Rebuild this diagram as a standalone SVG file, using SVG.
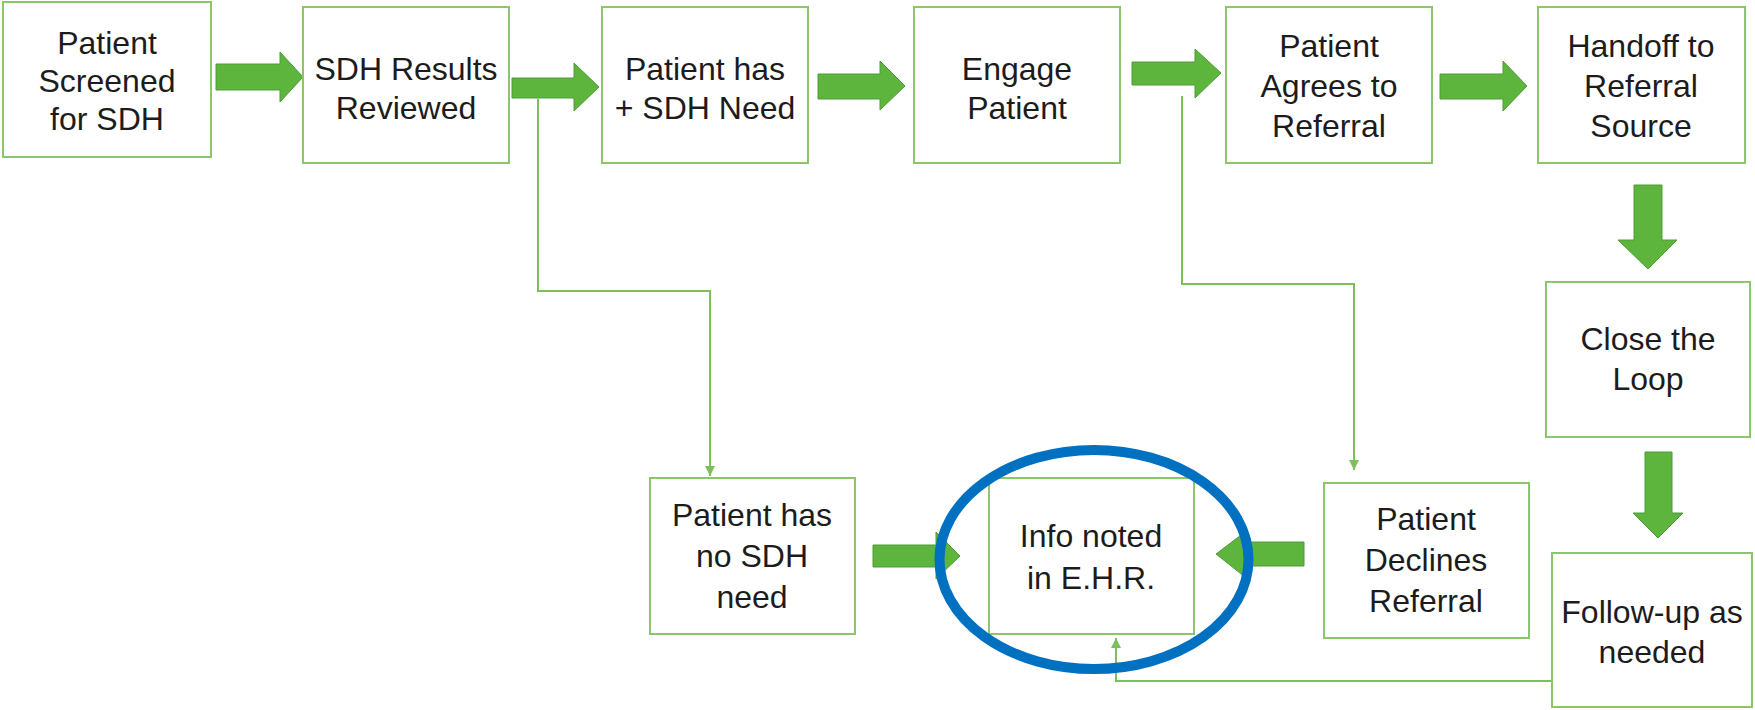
<svg xmlns="http://www.w3.org/2000/svg" width="1755" height="710" viewBox="0 0 1755 710">
  <defs>
    <style>
      .box { fill: #ffffff; stroke: #8cc66c; stroke-width: 2; }
      .lbl { font-family: "Liberation Sans Narrow", "Liberation Sans", Arial, sans-serif; font-size: 32px; fill: #1c1c1c; text-anchor: middle; }
      .blk { fill: #5db53e; stroke: #4f9c36; stroke-width: 1; stroke-linejoin: miter; }
      .thin { fill: none; stroke: #7dbf5b; stroke-width: 2; }
      .ring { fill: none; stroke: #0070c0; stroke-width: 10; }
    </style>
    <marker id="tip" viewBox="0 0 10 10" refX="10" refY="5" markerWidth="5" markerHeight="5" markerUnits="strokeWidth" orient="auto">
      <path d="M0,0 L10,5 L0,10 Z" fill="#7dbf5b"/>
    </marker>
  </defs>
  <rect width="1755" height="710" fill="#ffffff"/>

  <!-- connectors: block arrows and thin elbow lines -->
  <g id="connectors">
    <path class="blk" d="M216,64 H280 V52 L303,77 L280,102 V90 H216 Z"/>
    <path class="blk" d="M512,78 H574 V63 L599,87 L574,111 V98 H512 Z"/>
    <path class="blk" d="M818,74 H880 V61 L905,86 L880,110 V99 H818 Z"/>
    <path class="blk" d="M1132,62 H1195 V49 L1221,73 L1195,98 V85 H1132 Z"/>
    <path class="blk" d="M1440,74 H1503 V61 L1527,86 L1503,111 V99 H1440 Z"/>
    <path class="blk" d="M1634,185 H1662 V240 H1677 L1648,269 L1618,240 H1634 Z"/>
    <path class="blk" d="M1645,452 H1672 V513 H1683 L1658,538 L1633,513 H1645 Z"/>
    <path class="blk" d="M1304,542 V566 H1245 V577 L1216,554 L1245,532 V542 Z"/>
    <path class="blk" d="M873,545 H936 V532 L960,556 L936,579 V567 H873 Z"/>

    <path class="thin" d="M538,99 V291 H710 V476" marker-end="url(#tip)"/>
    <path class="thin" d="M1182,96 V284 H1354 V470" marker-end="url(#tip)"/>
    <path class="thin" d="M1552,681 H1116 V638" marker-end="url(#tip)"/>
  </g>

  <g id="n-screened">
    <rect class="box" x="3" y="2" width="208" height="155"/>
    <text class="lbl" x="107" y="54">Patient</text>
    <text class="lbl" x="107" y="92">Screened</text>
    <text class="lbl" x="107" y="130">for SDH</text>
  </g>
  <g id="n-reviewed">
    <rect class="box" x="303" y="7" width="206" height="156"/>
    <text class="lbl" x="406" y="80">SDH Results</text>
    <text class="lbl" x="406" y="119">Reviewed</text>
  </g>
  <g id="n-need">
    <rect class="box" x="602" y="7" width="206" height="156"/>
    <text class="lbl" x="705" y="80">Patient has</text>
    <text class="lbl" x="705" y="119">+ SDH Need</text>
  </g>
  <g id="n-engage">
    <rect class="box" x="914" y="7" width="206" height="156"/>
    <text class="lbl" x="1017" y="80">Engage</text>
    <text class="lbl" x="1017" y="119">Patient</text>
  </g>
  <g id="n-agrees">
    <rect class="box" x="1226" y="7" width="206" height="156"/>
    <text class="lbl" x="1329" y="57">Patient</text>
    <text class="lbl" x="1329" y="97">Agrees to</text>
    <text class="lbl" x="1329" y="137">Referral</text>
  </g>
  <g id="n-handoff">
    <rect class="box" x="1538" y="7" width="207" height="156"/>
    <text class="lbl" x="1641" y="57">Handoff to</text>
    <text class="lbl" x="1641" y="97">Referral</text>
    <text class="lbl" x="1641" y="137">Source</text>
  </g>
  <g id="n-close">
    <rect class="box" x="1546" y="282" width="204" height="155"/>
    <text class="lbl" x="1648" y="350">Close the</text>
    <text class="lbl" x="1648" y="390">Loop</text>
  </g>
  <g id="n-followup">
    <rect class="box" x="1552" y="553" width="200" height="154"/>
    <text class="lbl" x="1652" y="623">Follow-up as</text>
    <text class="lbl" x="1652" y="663">needed</text>
  </g>
  <g id="n-declines">
    <rect class="box" x="1324" y="483" width="205" height="155"/>
    <text class="lbl" x="1426" y="530">Patient</text>
    <text class="lbl" x="1426" y="571">Declines</text>
    <text class="lbl" x="1426" y="612">Referral</text>
  </g>
  <g id="n-ehr">
    <rect class="box" x="989" y="478" width="205" height="156"/>
    <text class="lbl" x="1091" y="547">Info noted</text>
    <text class="lbl" x="1091" y="589">in E.H.R.</text>
  </g>
  <g id="n-noneed">
    <rect class="box" x="650" y="478" width="205" height="156"/>
    <text class="lbl" x="752" y="526">Patient has</text>
    <text class="lbl" x="752" y="567">no SDH</text>
    <text class="lbl" x="752" y="608">need</text>
  </g>

  <!-- highlight ring around the record step -->
  <g id="highlight">
    <ellipse class="ring" cx="1094" cy="559.5" rx="154.5" ry="109.5"/>
  </g>
</svg>
